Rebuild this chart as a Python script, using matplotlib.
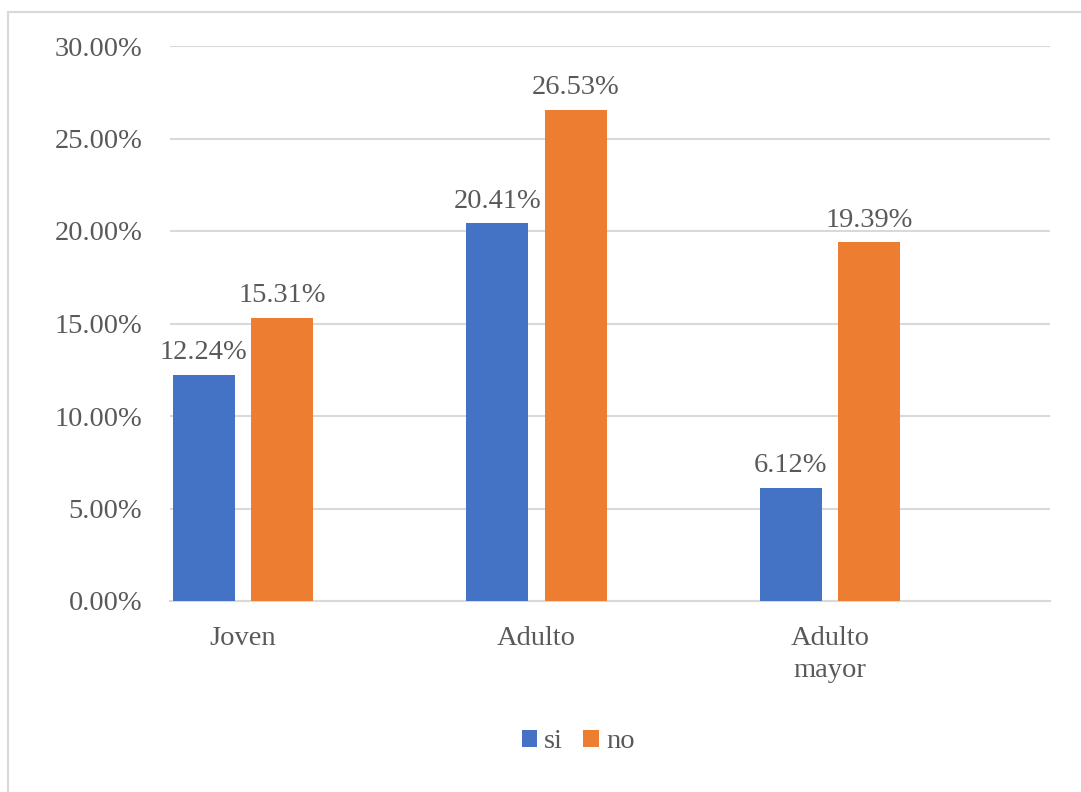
import matplotlib
matplotlib.use("Agg")
import matplotlib.pyplot as plt
from matplotlib.patches import Rectangle
from matplotlib.ticker import FuncFormatter
import numpy as np

categories = ["Joven", "Adulto", "Adulto\nmayor"]
series_names = ["si", "no"]
si_values = [12.24, 20.41, 6.12]
no_values = [15.31, 26.53, 19.39]
series_colors = ["#4472C4", "#ED7D31"]

plt.rcParams["font.family"] = ["Liberation Serif", "DejaVu Serif"]
text_color = "#595959"
grid_color = "#D9D9D9"
fs = 20.5

fig = plt.figure(figsize=(10.81, 7.92), dpi=100)
fig.patches.append(Rectangle((8 / 1081, -0.01), 1.02, 1 - 12 / 792 + 0.01,
                             transform=fig.transFigure, fill=False,
                             edgecolor=grid_color, linewidth=1.5))

ax = fig.add_axes([170 / 1081, 191 / 792, 880 / 1081, 555 / 792])

x = np.arange(len(categories))
width = 0.211
offset = 0.134
for vals, name, color, dx in [(si_values, series_names[0], series_colors[0], -offset),
                              (no_values, series_names[1], series_colors[1], offset)]:
    bars = ax.bar(x + dx, vals, width=width, color=color, label=name, zorder=3)
    for b, v in zip(bars, vals):
        ax.annotate(f"{v:.2f}%", (b.get_x() + b.get_width() / 2, v),
                    xytext=(0, 7), textcoords="offset points",
                    ha="center", va="bottom", fontsize=fs, color=text_color)

ax.set_xlim(-0.249, 2.75)
ax.set_ylim(0, 30)
ax.set_yticks(np.arange(0, 31, 5))
ax.yaxis.set_major_formatter(FuncFormatter(lambda v, p: f"{v:.2f}%"))
ax.set_xticks(x)
ax.set_xticklabels(categories)

ax.grid(axis="y", color=grid_color, linewidth=1.5, zorder=0)
for s in ["top", "right", "left"]:
    ax.spines[s].set_visible(False)
ax.spines["bottom"].set_color(grid_color)
ax.spines["bottom"].set_linewidth(1.5)
ax.tick_params(axis="both", length=0, labelsize=fs, labelcolor=text_color)
ax.tick_params(axis="y", pad=20)
ax.tick_params(axis="x", pad=18)
for lbl in ax.get_xticklabels():
    lbl.set_linespacing(1.35)
    lbl.set_verticalalignment("top")

fig.legend(loc="center", bbox_to_anchor=(578 / 1081, 1 - 742 / 792), ncol=2,
           frameon=False, fontsize=fs, handlelength=0.55, handleheight=0.55,
           handletextpad=0.25, columnspacing=0.7, labelcolor=text_color)

fig.savefig("out.png", dpi=100)
